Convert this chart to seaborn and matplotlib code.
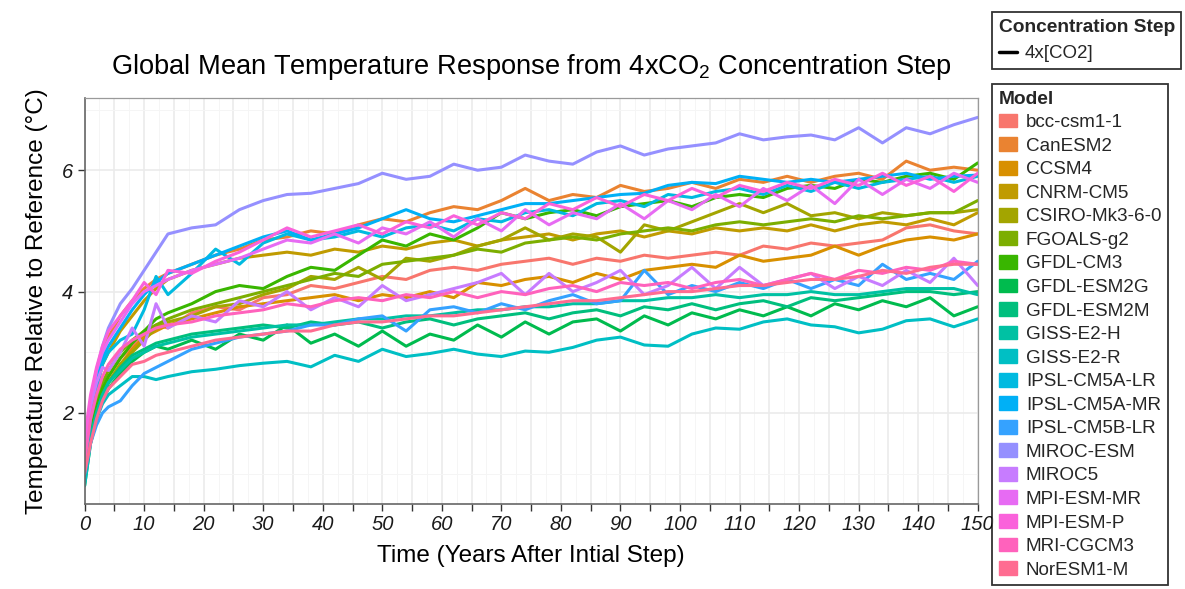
import numpy as np
import pandas as pd
import matplotlib
matplotlib.use("Agg")
import matplotlib.pyplot as plt
from matplotlib.ticker import MultipleLocator
from matplotlib.patches import Patch
from matplotlib.lines import Line2D
import seaborn as sns

YEARS = [0, 1, 2, 3, 4, 6, 8, 10, 12, 14,
         18, 22, 26, 30, 34, 38, 42, 46, 50, 54,
         58, 62, 66, 70, 74, 78, 82, 86, 90, 94,
         98, 102, 106, 110, 114, 118, 122, 126, 130, 134,
         138, 142, 146, 150]

MODELS = ["bcc-csm1-1", "CanESM2", "CCSM4", "CNRM-CM5", "CSIRO-Mk3-6-0",
          "FGOALS-g2", "GFDL-CM3", "GFDL-ESM2G", "GFDL-ESM2M", "GISS-E2-H",
          "GISS-E2-R", "IPSL-CM5A-LR", "IPSL-CM5A-MR", "IPSL-CM5B-LR",
          "MIROC-ESM", "MIROC5", "MPI-ESM-MR", "MPI-ESM-P", "MRI-CGCM3",
          "NorESM1-M"]

# ggplot default hue palette for 20 levels
COLORS = ["#F8766D", "#EA8331", "#D89000", "#C09B00", "#A3A500",
          "#7CAE00", "#39B600", "#00BB4E", "#00BF7D", "#00C1A3",
          "#00BFC4", "#00BAE0", "#00B0F6", "#35A2FF", "#9590FF",
          "#C77CFF", "#E76BF3", "#FA62DB", "#FF62BC", "#FF6C91"]

bcc_csm1_1 = [1.0, 1.7, 2.1, 2.4, 2.6, 2.9, 3.1, 3.3, 3.45, 3.4,
              3.65, 3.75, 3.7, 3.9, 3.95, 4.1, 4.05, 4.15, 4.25, 4.2,
              4.35, 4.4, 4.35, 4.45, 4.5, 4.55, 4.45, 4.55, 4.5, 4.6,
              4.55, 4.6, 4.65, 4.6, 4.75, 4.7, 4.8, 4.75, 4.8, 4.85,
              5.05, 5.1, 5.0, 4.95]
canesm2 = [1.4, 2.2, 2.7, 3.0, 3.25, 3.6, 3.85, 4.05, 4.2, 4.3,
           4.45, 4.6, 4.7, 4.85, 4.9, 5.0, 4.95, 5.1, 5.2, 5.15,
           5.3, 5.4, 5.35, 5.5, 5.7, 5.5, 5.6, 5.55, 5.75, 5.65,
           5.7, 5.8, 5.7, 5.85, 5.8, 5.9, 5.8, 5.9, 5.95, 5.85,
           6.15, 6.0, 6.05, 6.0]
ccsm4 = [1.0, 1.6, 2.0, 2.3, 2.5, 2.8, 3.05, 3.25, 3.35, 3.45,
         3.55, 3.65, 3.75, 3.8, 3.85, 3.9, 3.95, 3.85, 3.95, 3.9,
         4.0, 3.9, 4.15, 4.1, 4.2, 4.25, 4.15, 4.3, 4.2, 4.35,
         4.4, 4.45, 4.4, 4.6, 4.5, 4.55, 4.6, 4.75, 4.6, 4.75,
         4.85, 4.9, 4.85, 4.95]
cnrm_cm5 = [1.1, 1.9, 2.4, 2.8, 3.0, 3.35, 3.6, 3.85, 4.05, 4.2,
            4.35, 4.45, 4.55, 4.6, 4.65, 4.6, 4.7, 4.65, 4.75, 4.7,
            4.8, 4.85, 4.75, 4.85, 4.9, 4.95, 4.85, 4.95, 5.0, 4.9,
            5.0, 4.95, 5.05, 5.0, 5.05, 5.0, 5.1, 5.0, 5.1, 5.15,
            5.1, 5.2, 5.1, 5.3]
csiro_mk3 = [0.9, 1.6, 2.0, 2.3, 2.5, 2.8, 3.0, 3.2, 3.4, 3.5,
             3.6, 3.75, 3.8, 3.95, 4.05, 4.25, 4.2, 4.4, 4.2, 4.55,
             4.5, 4.6, 4.75, 4.85, 5.05, 4.85, 4.95, 4.9, 4.65, 5.1,
             5.0, 5.15, 5.3, 5.45, 5.3, 5.45, 5.25, 5.3, 5.2, 5.3,
             5.25, 5.3, 5.3, 5.35]
fgoals_g2 = [1.1, 1.8, 2.2, 2.5, 2.7, 3.0, 3.2, 3.35, 3.45, 3.55,
             3.7, 3.8, 3.9, 4.0, 4.1, 4.2, 4.3, 4.25, 4.45, 4.5,
             4.55, 4.6, 4.7, 4.65, 4.8, 4.85, 4.9, 4.85, 4.95, 5.0,
             5.05, 5.0, 5.1, 5.15, 5.1, 5.15, 5.2, 5.15, 5.25, 5.2,
             5.25, 5.3, 5.3, 5.5]
gfdl_cm3 = [1.0, 1.7, 2.1, 2.4, 2.6, 2.9, 3.15, 3.35, 3.55, 3.65,
            3.8, 4.0, 4.1, 4.05, 4.25, 4.4, 4.35, 4.6, 4.85, 4.75,
            4.95, 4.85, 5.05, 5.3, 5.2, 5.3, 5.35, 5.25, 5.4, 5.45,
            5.5, 5.4, 5.55, 5.6, 5.55, 5.7, 5.75, 5.7, 5.85, 5.8,
            5.9, 5.95, 5.85, 6.12]
gfdl_esm2g = [0.8, 1.5, 1.9, 2.2, 2.4, 2.65, 2.85, 3.0, 3.1, 3.05,
              3.2, 3.05, 3.3, 3.2, 3.45, 3.15, 3.3, 3.1, 3.35, 3.1,
              3.3, 3.2, 3.45, 3.25, 3.5, 3.3, 3.5, 3.55, 3.35, 3.6,
              3.45, 3.65, 3.55, 3.7, 3.6, 3.75, 3.6, 3.8, 3.7, 3.85,
              3.75, 3.9, 3.6, 3.75]
gfdl_esm2m = [0.9, 1.6, 2.0, 2.3, 2.5, 2.75, 2.95, 3.05, 3.15, 3.2,
              3.3, 3.35, 3.4, 3.45, 3.4, 3.5, 3.45, 3.5, 3.4, 3.5,
              3.55, 3.45, 3.55, 3.6, 3.65, 3.55, 3.65, 3.7, 3.6, 3.75,
              3.7, 3.8, 3.7, 3.8, 3.85, 3.75, 3.9, 3.85, 3.9, 3.95,
              4.0, 4.0, 3.95, 4.0]
giss_e2_h = [0.9, 1.6, 2.0, 2.3, 2.5, 2.7, 2.9, 3.0, 3.1, 3.15,
             3.25, 3.3, 3.35, 3.4, 3.45, 3.45, 3.5, 3.55, 3.55, 3.6,
             3.6, 3.65, 3.7, 3.7, 3.75, 3.75, 3.8, 3.8, 3.85, 3.85,
             3.9, 3.9, 3.95, 3.9, 3.95, 3.95, 4.0, 3.95, 3.95, 4.0,
             4.05, 4.05, 4.05, 3.95]
giss_e2_r = [0.8, 1.5, 1.9, 2.15, 2.3, 2.45, 2.6, 2.6, 2.55, 2.6,
             2.68, 2.72, 2.78, 2.82, 2.85, 2.76, 2.95, 2.85, 3.05, 2.93,
             2.98, 3.05, 2.97, 2.93, 3.02, 3.0, 3.08, 3.2, 3.25, 3.12,
             3.1, 3.3, 3.4, 3.38, 3.5, 3.55, 3.45, 3.42, 3.32, 3.38,
             3.52, 3.55, 3.42, 3.55]
ipsl_cm5a_lr = [1.2, 1.9, 2.4, 2.8, 3.0, 3.2, 3.3, 3.7, 4.25, 3.95,
                4.3, 4.7, 4.45, 4.8, 4.95, 4.85, 4.9, 5.0, 4.9, 5.05,
                5.1, 5.0, 5.2, 5.15, 5.3, 5.35, 5.25, 5.45, 5.5, 5.4,
                5.6, 5.55, 5.65, 5.7, 5.6, 5.75, 5.65, 5.8, 5.7, 5.8,
                5.85, 5.9, 5.8, 5.9]
ipsl_cm5a_mr = [1.3, 2.1, 2.6, 2.9, 3.1, 3.4, 3.7, 3.95, 4.15, 4.3,
                4.45, 4.6, 4.75, 4.9, 5.0, 4.85, 4.95, 5.05, 5.2, 5.35,
                5.2, 5.15, 5.25, 5.35, 5.45, 5.45, 5.5, 5.55, 5.6, 5.62,
                5.75, 5.8, 5.78, 5.9, 5.85, 5.8, 5.85, 5.8, 5.85, 5.9,
                5.95, 5.85, 5.9, 5.92]
ipsl_cm5b_lr = [1.0, 1.5, 1.8, 2.0, 2.1, 2.2, 2.45, 2.65, 2.75, 2.85,
                3.05, 3.15, 3.25, 3.3, 3.35, 3.45, 3.45, 3.55, 3.6, 3.35,
                3.7, 3.75, 3.65, 3.8, 3.7, 3.85, 3.95, 3.8, 3.85, 4.35,
                3.95, 4.1, 4.0, 4.15, 4.05, 4.2, 4.05, 4.2, 4.1, 4.45,
                4.2, 4.3, 4.2, 4.5]
miroc_esm = [1.5, 2.2, 2.7, 3.1, 3.4, 3.8, 4.05, 4.35, 4.65, 4.95,
             5.05, 5.1, 5.35, 5.5, 5.6, 5.62, 5.7, 5.78, 5.95, 5.85,
             5.9, 6.1, 6.0, 6.05, 6.25, 6.15, 6.1, 6.3, 6.4, 6.25,
             6.35, 6.4, 6.45, 6.6, 6.5, 6.55, 6.58, 6.5, 6.7, 6.45,
             6.7, 6.6, 6.75, 6.87]
miroc5 = [1.3, 2.1, 2.5, 2.75, 2.7, 3.0, 3.4, 3.1, 3.8, 3.4,
          3.6, 3.5, 3.85, 3.75, 4.0, 3.7, 3.9, 3.75, 4.1, 3.85,
          3.95, 4.05, 4.15, 4.3, 3.95, 4.3, 4.0, 4.15, 4.35, 3.95,
          4.1, 4.4, 4.05, 4.4, 4.1, 4.2, 4.3, 4.05, 4.25, 4.1,
          4.35, 4.15, 4.55, 4.1]
mpi_esm_mr = [1.4, 2.2, 2.7, 3.0, 3.2, 3.5, 3.8, 4.0, 4.1, 4.2,
              4.35, 4.45, 4.55, 4.7, 4.85, 4.8, 4.95, 4.8, 5.05, 4.95,
              5.15, 4.9, 5.2, 5.0, 5.35, 5.1, 5.3, 5.2, 5.45, 5.2,
              5.5, 5.35, 5.6, 5.4, 5.7, 5.5, 5.75, 5.45, 5.85, 5.6,
              5.85, 5.7, 5.95, 5.8]
mpi_esm_p = [1.6, 2.3, 2.75, 3.1, 3.35, 3.6, 3.85, 4.15, 3.95, 4.35,
             4.3, 4.5, 4.65, 4.85, 5.05, 4.9, 5.0, 5.1, 4.95, 5.15,
             5.05, 5.25, 5.1, 5.3, 5.2, 5.45, 5.35, 5.55, 5.4, 5.6,
             5.5, 5.7, 5.55, 5.75, 5.65, 5.8, 5.7, 5.85, 5.75, 5.95,
             5.75, 5.9, 5.65, 5.95]
mri_cgcm3 = [1.2, 1.9, 2.3, 2.6, 2.8, 3.05, 3.2, 3.3, 3.4, 3.45,
             3.5, 3.6, 3.65, 3.7, 3.8, 3.75, 3.85, 3.9, 3.85, 3.95,
             3.9, 4.0, 3.9, 4.0, 3.95, 4.05, 4.1, 4.0, 4.15, 4.1,
             4.15, 4.05, 4.15, 4.2, 4.1, 4.2, 4.3, 4.2, 4.35, 4.3,
             4.4, 4.35, 4.5, 4.45]
noresm1_m = [1.0, 1.5, 1.9, 2.2, 2.4, 2.6, 2.8, 2.85, 2.95, 3.0,
             3.1, 3.2, 3.25, 3.3, 3.35, 3.35, 3.45, 3.5, 3.5, 3.55,
             3.6, 3.6, 3.65, 3.7, 3.75, 3.8, 3.85, 3.85, 3.9, 3.95,
             4.0, 4.0, 4.05, 4.1, 4.1, 4.15, 4.2, 4.2, 4.25, 4.35,
             4.3, 4.4, 4.45, 4.45]

SERIES = [bcc_csm1_1, canesm2, ccsm4, cnrm_cm5, csiro_mk3, fgoals_g2,
          gfdl_cm3, gfdl_esm2g, gfdl_esm2m, giss_e2_h, giss_e2_r,
          ipsl_cm5a_lr, ipsl_cm5a_mr, ipsl_cm5b_lr, miroc_esm, miroc5,
          mpi_esm_mr, mpi_esm_p, mri_cgcm3, noresm1_m]

rows = []
for model, vals in zip(MODELS, SERIES):
    assert len(vals) == len(YEARS), model
    for yr, v in zip(YEARS, vals):
        rows.append((model, yr, v))
df = pd.DataFrame(rows, columns=["Model", "Year", "Temp"])

sns.set_theme(style="white")
plt.rcParams["font.family"] = ["Liberation Sans", "DejaVu Sans"]
plt.rcParams["mathtext.default"] = "regular"

W, H = 1185, 589
fig = plt.figure(figsize=(W / 100, H / 100), dpi=100, facecolor="white")
ax = fig.add_axes([84.6 / W, (H - 504) / H, (977.7 - 84.6) / W, (504 - 98) / H])

sns.lineplot(data=df, x="Year", y="Temp", hue="Model", hue_order=MODELS,
             palette=COLORS, linewidth=2.2, estimator=None, legend=False, ax=ax)

ax.set_xlim(0, 150)
ax.set_ylim(0.50, 7.19)
xt = np.arange(0, 151, 5)
ax.set_xticks(xt, labels=[str(t) if t % 10 == 0 else "" for t in xt],
              fontstyle="italic")
ax.set_yticks([2, 4, 6], labels=["2", "4", "6"], fontstyle="italic")
ax.xaxis.set_minor_locator(MultipleLocator(2.5))
ax.yaxis.set_minor_locator(MultipleLocator(1))
ax.tick_params(axis="both", which="major", direction="out", length=5,
               width=1, color="#333333", labelsize=14.5, labelcolor="#1a1a1a",
               pad=3, bottom=True, left=True)
ax.tick_params(axis="both", which="minor", length=0)

ax.grid(which="major", color="#EBEBEB", linewidth=1.2)
ax.grid(which="minor", color="#F5F5F5", linewidth=0.7)
ax.set_axisbelow(True)
for side in ["top", "right"]:
    ax.spines[side].set_color("#9a9a9a")
    ax.spines[side].set_linewidth(0.9)
for side in ["left", "bottom"]:
    ax.spines[side].set_color("#666666")
    ax.spines[side].set_linewidth(1.2)

ax.set_xlabel("Time (Years After Intial Step)", fontsize=17.5, color="black",
              labelpad=8)
ax.set_ylabel("Temperature Relative to Reference (°C)", fontsize=17.5,
              color="black", labelpad=10)
ax.set_title("Global Mean Temperature Response from 4xCO$_2$ Concentration Step",
             fontsize=19.6, color="black", pad=17)

# legends, drawn outside the panel like the ggplot guides
conc = fig.legend(handles=[Line2D([], [], color="black", lw=2.5)],
                  labels=["4x[CO2]"], title="Concentration Step",
                  loc="upper left", bbox_to_anchor=(992 / W, 1 - 12 / H),
                  frameon=True, fancybox=False, edgecolor="black",
                  fontsize=13.5, title_fontproperties={"weight": "bold", "size": 13.8},
                  alignment="left", handlelength=1.0, handletextpad=0.4,
                  borderpad=0.35, borderaxespad=0)
conc.get_frame().set_linewidth(1.3)

handles = [Patch(facecolor=c, edgecolor=c) for c in COLORS]
leg = fig.legend(handles=handles, labels=MODELS, title="Model",
                 loc="upper left", bbox_to_anchor=(992 / W, 1 - 84 / H),
                 frameon=True, fancybox=False, edgecolor="black",
                 fontsize=13.6, title_fontproperties={"weight": "bold", "size": 13.8},
                 alignment="left", handlelength=1.0, handleheight=0.75,
                 handletextpad=0.45, labelspacing=0.32,
                 borderpad=0.35, borderaxespad=0)
leg.get_frame().set_linewidth(1.3)

fig.savefig("out.png", dpi=100, facecolor="white")
